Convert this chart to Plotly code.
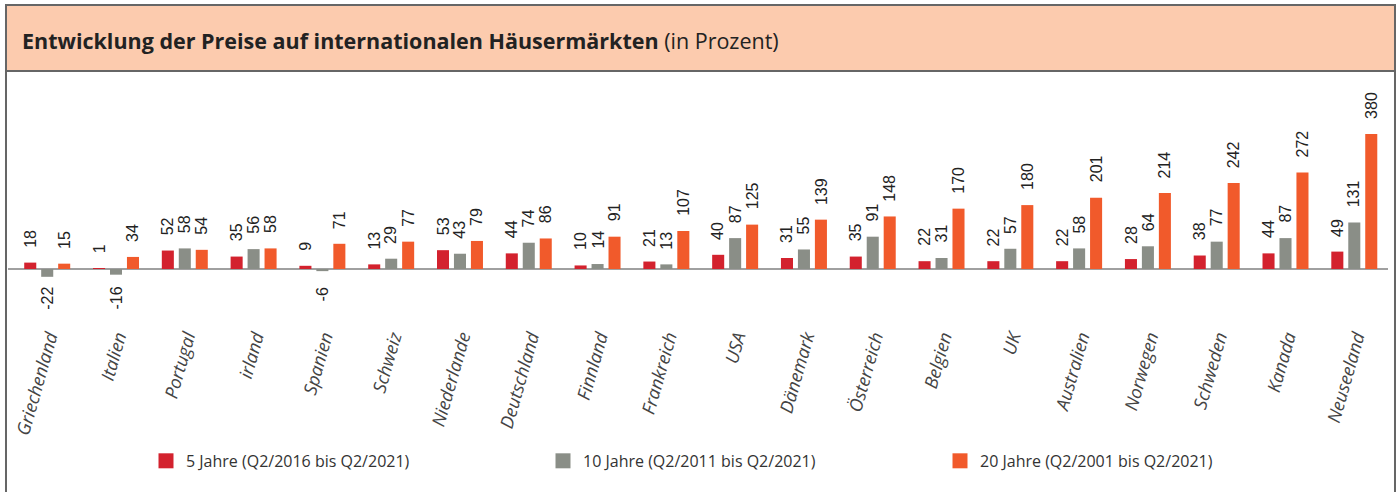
import plotly.graph_objects as go

laender = ["Griechenland", "Italien", "Portugal", "irland", "Spanien", "Schweiz",
           "Niederlande", "Deutschland", "Finnland", "Frankreich", "USA", "Dänemark",
           "Österreich", "Belgien", "UK", "Australien", "Norwegen", "Schweden",
           "Kanada", "Neuseeland"]
jahre_5 = [18, 1, 52, 35, 9, 13, 53, 44, 10, 21, 40, 31, 35, 22, 22, 22, 28, 38, 44, 49]
jahre_10 = [-22, -16, 58, 56, -6, 29, 43, 74, 14, 13, 87, 55, 91, 31, 57, 58, 64, 77, 87, 131]
jahre_20 = [15, 34, 54, 58, 71, 77, 79, 86, 91, 107, 125, 139, 148, 170, 180, 201, 214, 242, 272, 380]

serien = [
    ("5 Jahre (Q2/2016 bis Q2/2021)", jahre_5, "#d3222e", -17),
    ("10 Jahre (Q2/2011 bis Q2/2021)", jahre_10, "#8a8e87", 0),
    ("20 Jahre (Q2/2001 bis Q2/2021)", jahre_20, "#f15a2b", 17),
]

W, H = 1400, 492

fig = go.Figure()
annotations = []
for name, werte, farbe, shift in serien:
    fig.add_trace(go.Bar(x=laender, y=werte, name=name, marker_color=farbe,
                         marker_line_width=0, showlegend=False, hoverinfo="x+y"))
    # legend entry with a bigger square symbol
    fig.add_trace(go.Scatter(x=[None], y=[None], mode="markers", name=name,
                             marker=dict(symbol="square", size=15, color=farbe)))
    for land, v in zip(laender, werte):
        if v >= 0:
            annotations.append(dict(x=land, y=v, text=str(v), textangle=-90,
                                    showarrow=False, xshift=shift, yshift=13,
                                    yanchor="bottom", xanchor="center"))
        else:
            annotations.append(dict(x=land, y=0, text=str(v), textangle=-90,
                                    showarrow=False, xshift=shift, yshift=-16,
                                    yanchor="top", xanchor="center"))

for a in annotations:
    a["font"] = dict(family="Liberation Sans, Arial, sans-serif", size=16, color="#222")

fig.update_layout(
    width=W, height=H,
    margin=dict(l=8, r=12, t=80, b=170, autoexpand=False),
    barmode="group", bargap=0.26, bargroupgap=0.29,
    plot_bgcolor="white", paper_bgcolor="white",
    font=dict(family="Open Sans, sans-serif", color="#333"),
    annotations=annotations,
    title=dict(
        text="<b>Entwicklung der Preise auf internationalen Häusermärkten</b> (in Prozent)",
        xref="container", yref="container", x=22 / W, y=1 - 41 / H,
        xanchor="left", yanchor="middle",
        font=dict(family="Open Sans, sans-serif", size=21.5, color="#222"),
    ),
    legend=dict(orientation="h", x=0.1, xanchor="left", y=-0.574, yanchor="middle",
                entrywidth=352, itemsizing="trace",
                font=dict(family="Open Sans, sans-serif", size=16, color="#333")),
    shapes=[
        dict(type="rect", xref="paper", yref="paper", x0=-0.00145, x1=1.00507,
             y0=1.0372, y1=1.3099, fillcolor="#fccbae", line=dict(color="#666", width=2),
             layer="below"),
        dict(type="line", xref="paper", yref="paper", x0=-0.00145, x1=-0.00145,
             y0=-0.75, y1=1.0372, line=dict(color="#666", width=2)),
        dict(type="line", xref="paper", yref="paper", x0=1.00507, x1=1.00507,
             y0=-0.75, y1=1.0372, line=dict(color="#666", width=2)),
    ],
)
fig.update_xaxes(range=[-0.57, 19.49], showline=False, showgrid=False, ticks="",
                 tickangle=-74, ticklabelshift=2, automargin=False,
                 tickfont=dict(family="Open Sans, sans-serif", size=18, color="#444",
                               style="italic"))
fig.update_yaxes(range=[-149.3, 532.4], showgrid=False, showticklabels=False,
                 automargin=False,
                 zeroline=True, zerolinecolor="#a0a0a0", zerolinewidth=2)

# drop the default 8px body margin so the figure starts at the window corner
fig.write_html("out.html", config={"displayModeBar": False},
               post_script="document.body.style.margin = '0';")
